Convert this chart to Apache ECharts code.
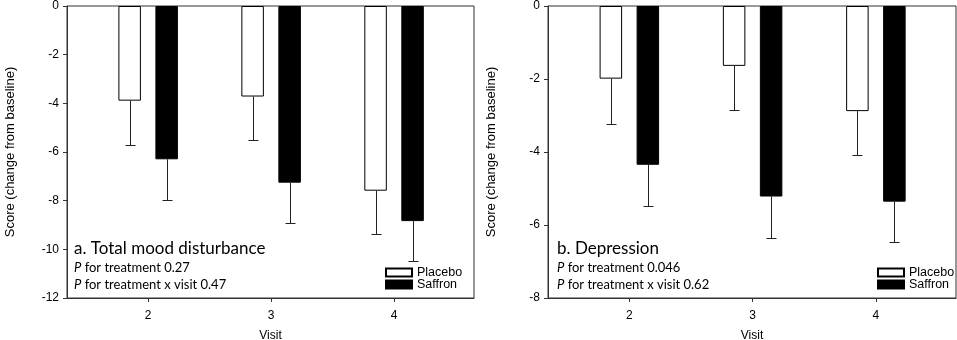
<!DOCTYPE html>
<html>
<head>
<meta charset="utf-8">
<script src="https://cdn.jsdelivr.net/npm/echarts@6/dist/echarts.min.js"></script>
<style>
  * { margin: 0; padding: 0; }
  #main { width: 957px; height: 340px; background: #fff; }
</style>
</head>
<body>
<div id="main"></div>
<script>
// visits on the x axis
var visits = [2, 3, 4];

// a. Total mood disturbance
var moodPlacebo = [-3.89, -3.72, -7.59];
var moodPlaceboSE = [1.83, 1.77, 1.79];
var moodSaffron = [-6.30, -7.26, -8.84];
var moodSaffronSE = [1.66, 1.66, 1.62];

// b. Depression
var depPlacebo = [-1.99, -1.64, -2.88];
var depPlaceboSE = [1.24, 1.21, 1.21];
var depSaffron = [-4.35, -5.22, -5.36];
var depSaffronSE = [1.14, 1.13, 1.11];

var BAR_W = 22.5, BAR_GAP = 14.5;
var SHIFT = (BAR_W + BAR_GAP) / 2;
var AXIS_COLOR = '#333';
var SANS = '"Liberation Sans", Arial, sans-serif';
var NOTE = 'Lato, "Open Sans", sans-serif';

function pairs(vals) {
  return visits.map(function (v, i) { return [v, vals[i]]; });
}

function bars(idx, name, vals) {
  var placebo = name === 'Placebo';
  return {
    type: 'bar', name: name, xAxisIndex: idx, yAxisIndex: idx,
    data: pairs(vals),
    barWidth: BAR_W, barGap: (BAR_GAP / BAR_W * 100) + '%',
    itemStyle: { color: placebo ? '#fff' : '#000', borderColor: '#000', borderWidth: 1 },
    emphasis: { disabled: true }
  };
}

function errBars(idx, vals, se, shift) {
  return {
    type: 'custom', xAxisIndex: idx, yAxisIndex: idx, silent: true,
    encode: { x: 0, y: [1, 2] },
    data: visits.map(function (v, i) { return [v, vals[i], vals[i] - se[i]]; }),
    renderItem: function (params, api) {
      var top = api.coord([api.value(0), api.value(1)]);
      var bot = api.coord([api.value(0), api.value(2)]);
      var x = Math.round(top[0] + shift) + 0.5;
      var y2 = Math.round(bot[1]) + 0.5;
      return {
        type: 'group',
        children: [
          { type: 'line', shape: { x1: x, y1: top[1], x2: x, y2: y2 }, style: { stroke: '#222', lineWidth: 1 } },
          { type: 'line', shape: { x1: x - 5, y1: y2, x2: x + 5, y2: y2 }, style: { stroke: '#222', lineWidth: 1 } }
        ]
      };
    }
  };
}

function xAxis(idx) {
  return {
    type: 'value', gridIndex: idx, min: 1.34, max: 4.65,
    name: 'Visit', nameLocation: 'middle', nameGap: 32,
    nameTextStyle: { fontFamily: SANS, fontSize: 12, color: '#000' },
    axisLine: { onZero: false, lineStyle: { color: AXIS_COLOR } },
    axisTick: { customValues: visits, length: 4, lineStyle: { color: AXIS_COLOR } },
    axisLabel: { customValues: visits, fontFamily: SANS, fontSize: 12, color: '#000', margin: 12 },
    splitLine: { show: false }
  };
}

function yAxis(idx, min) {
  return {
    type: 'value', gridIndex: idx, min: min, max: 0, interval: 2,
    name: 'Score (change from baseline)', nameLocation: 'middle', nameGap: 50,
    nameTextStyle: { fontFamily: SANS, fontSize: 13, color: '#000' },
    axisLine: { onZero: false, lineStyle: { color: AXIS_COLOR } },
    axisTick: { length: 4, lineStyle: { color: AXIS_COLOR } },
    axisLabel: { fontFamily: SANS, fontSize: 12, color: '#000', margin: 8 },
    splitLine: { show: false }
  };
}

function notes(left, heading, p1, p2) {
  var rich = {
    i: { fontFamily: NOTE, fontSize: 13, fontStyle: 'italic', fontWeight: 'normal', color: '#000' },
    t: { fontFamily: NOTE, fontSize: 13, fontWeight: 'normal', color: '#000' }
  };
  return [
    { left: left, top: 240, padding: 0, text: heading,
      textStyle: { fontFamily: NOTE, fontSize: 17, fontWeight: 'normal', color: '#000' } },
    { left: left, top: 261, padding: 0, text: '{i|P}{t| ' + p1 + '}',
      textStyle: { fontWeight: 'normal', rich: rich } },
    { left: left, top: 278, padding: 0, text: '{i|P}{t| ' + p2 + '}',
      textStyle: { fontWeight: 'normal', rich: rich } }
  ];
}

function legend(left) {
  return {
    left: left, top: 266, padding: 0, orient: 'vertical', itemGap: -1,
    itemWidth: 26, itemHeight: 8, icon: 'rect',
    data: ['Placebo', 'Saffron'],
    textStyle: { fontFamily: SANS, fontSize: 12.5, lineHeight: 12, color: '#000', padding: 0 },
    selectedMode: false
  };
}

var chart = echarts.init(document.getElementById('main'));
chart.setOption({
  animation: false,
  title: notes(74, 'a. Total mood disturbance', 'for treatment 0.27', 'for treatment x visit 0.47')
    .concat(notes(557, 'b. Depression', 'for treatment 0.046', 'for treatment x visit 0.62')),
  legend: [legend(385), legend(877)],
  grid: [
    { left: 67, top: 6, width: 407, height: 292, outerBoundsMode: 'none', show: true, borderColor: AXIS_COLOR, borderWidth: 1 },
    { left: 548, top: 6, width: 408, height: 292, outerBoundsMode: 'none', show: true, borderColor: AXIS_COLOR, borderWidth: 1 }
  ],
  xAxis: [xAxis(0), xAxis(1)],
  yAxis: [yAxis(0, -12), yAxis(1, -8)],
  series: [
    bars(0, 'Placebo', moodPlacebo),
    bars(0, 'Saffron', moodSaffron),
    errBars(0, moodPlacebo, moodPlaceboSE, -SHIFT),
    errBars(0, moodSaffron, moodSaffronSE, SHIFT),
    bars(1, 'Placebo', depPlacebo),
    bars(1, 'Saffron', depSaffron),
    errBars(1, depPlacebo, depPlaceboSE, -SHIFT),
    errBars(1, depSaffron, depSaffronSE, SHIFT)
  ]
});
</script>
</body>
</html>
